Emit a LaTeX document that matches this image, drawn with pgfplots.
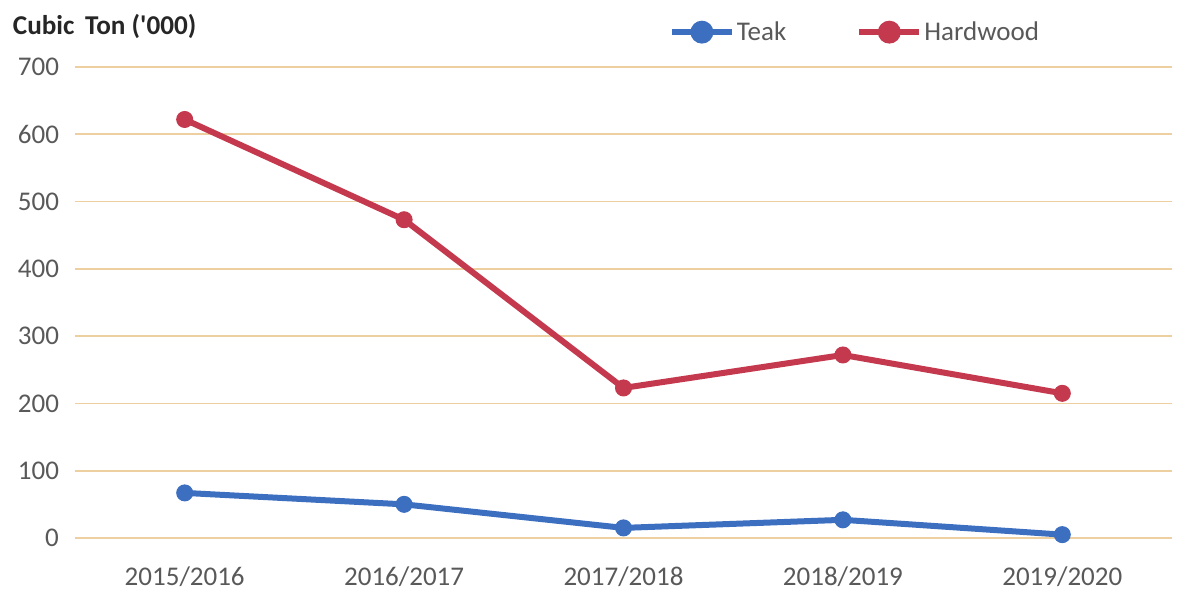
\documentclass[border=0pt]{standalone}
\usepackage{fontspec}
\setmainfont{Carlito}
\newfontfamily\titlefont{Carlito}
\usepackage{pgfplots}
\pgfplotsset{compat=1.18}
\definecolor{teak}{RGB}{61,111,192}
\definecolor{hard}{RGB}{196,57,77}
\definecolor{gridc}{RGB}{238,208,160}
\definecolor{tickc}{RGB}{89,89,89}
\begin{document}
\begin{tikzpicture}
\useasboundingbox (-37.5pt,-27.5pt) rectangle (559.5pt,269pt);
\begin{axis}[
    at={(0,0)}, anchor=south west,
    scale only axis,
    width=548.5pt, height=235.5pt,
    xmin=-0.5, xmax=4.5,
    ymin=0, ymax=700,
    xtick={0,1,2,3,4},
    xticklabels={2015/2016,2016/2017,2017/2018,2018/2019,2019/2020},
    ytick={0,100,...,700},
    ymajorgrids,
    grid style={gridc, line width=0.9pt},
    axis line style={draw=none},
    major tick style={draw=none},
    tick label style={font=\fontsize{13.5}{16}\selectfont, text=tickc},
    /pgf/number format/assume math mode=true,
    xticklabel style={yshift=-11pt},
    yticklabel style={xshift=-4.5pt},
    legend style={draw=none, fill=none, at={(0.711,1.074)}, anchor=center,
        legend columns=2, font=\fontsize{13.5}{16}\selectfont, text=tickc,
        nodes={inner xsep=1pt},
        /tikz/every even column/.append style={column sep=34pt}},
    legend image code/.code={
        \draw[#1, mark=none] (0pt,0pt) -- (30pt,0pt);
        \fill[#1] (15pt,0pt) circle (4.2pt);
    },
    clip=false,
]
\addplot[teak, line width=3pt, mark=*, mark size=4pt, mark options={fill=teak, line width=0.5pt}]
    coordinates {(0,67) (1,50) (2,15) (3,27) (4,5)};
\addlegendentry{Teak}
\addplot[hard, line width=3pt, mark=*, mark size=4pt, mark options={fill=hard, line width=0.5pt}]
    coordinates {(0,622) (1,473) (2,223) (3,272) (4,215)};
\addlegendentry{Hardwood}
\node[anchor=west, inner sep=0pt, font=\titlefont\fontsize{13.6}{16}\selectfont\bfseries, text=black!85]
    at (axis description cs:-0.057,1.085) {Cubic\, Ton ('000)};
\end{axis}
\end{tikzpicture}
\end{document}
